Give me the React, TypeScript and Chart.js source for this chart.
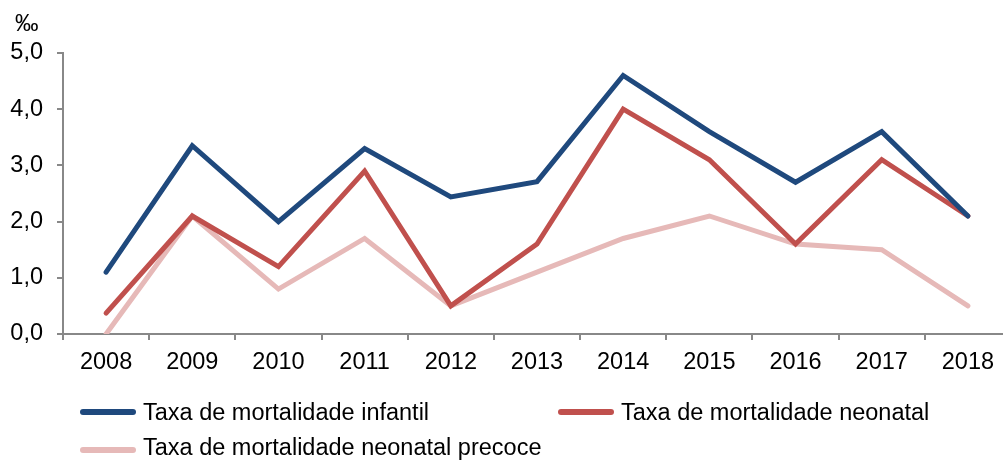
import React, { useEffect, useRef } from "react";
import { Chart, registerables } from "chart.js";

Chart.register(...registerables);

const years = ["2008", "2009", "2010", "2011", "2012", "2013", "2014", "2015", "2016", "2017", "2018"];
const infantil = [1.1, 3.35, 2.0, 3.3, 2.44, 2.71, 4.6, 3.6, 2.7, 3.6, 2.1];
const neonatal = [0.37, 2.1, 1.2, 2.9, 0.5, 1.6, 4.0, 3.1, 1.6, 3.1, 2.1];
const precoce = [0.0, 2.1, 0.8, 1.7, 0.5, 1.1, 1.7, 2.1, 1.6, 1.5, 0.5];
const yTicks = [0, 1, 2, 3, 4, 5];

const seriesNames = [
  "Taxa de mortalidade infantil",
  "Taxa de mortalidade neonatal",
  "Taxa de mortalidade neonatal precoce",
];
const seriesColors = ["#1F497D", "#C0504D", "#E6B9B8"];

const FONT = "'Liberation Sans', Arial, sans-serif";
const FONT_SIZE = 23.5;
const CANVAS_W = 1020;
const CANVAS_H = 462;

export default function App() {
  const ref = useRef<HTMLCanvasElement | null>(null);

  useEffect(() => {
    if (!ref.current) return;
    const chart = new Chart(ref.current, {
      type: "line",
      data: {
        labels: years,
        datasets: [infantil, neonatal, precoce].map((d, i) => ({
          label: seriesNames[i],
          data: d,
          borderColor: seriesColors[i],
          backgroundColor: seriesColors[i],
          borderWidth: 5,
          pointRadius: 0,
          tension: 0,
          borderCapStyle: "round" as const,
          borderJoinStyle: "miter" as const,
        })),
      },
      options: {
        responsive: false,
        animation: false,
        layout: { padding: { left: 0, right: CANVAS_W - 1011, top: 53, bottom: 0 } },
        plugins: { legend: { display: false }, tooltip: { enabled: false } },
        scales: {
          x: {
            offset: true,
            grid: {
              offset: true,
              drawOnChartArea: false,
              drawTicks: true,
              tickLength: 6,
              color: "#888888",
              lineWidth: 2,
            },
            border: { color: "#888888", width: 2 },
            ticks: {
              color: "#000",
              font: { family: FONT, size: FONT_SIZE },
              padding: 8,
              maxRotation: 0,
              autoSkip: false,
            },
            afterFit: (scale: any) => {
              scale.height = CANVAS_H - 334;
            },
          },
          y: {
            min: 0,
            max: 5,
            afterBuildTicks: (scale: any) => {
              scale.ticks = yTicks.map((v) => ({ value: v }));
            },
            grid: {
              drawOnChartArea: false,
              drawTicks: true,
              tickLength: 6,
              color: "#888888",
              lineWidth: 2,
            },
            border: { color: "#888888", width: 2 },
            ticks: {
              color: "#000",
              font: { family: FONT, size: FONT_SIZE },
              padding: 14,
              callback: (v: any) => Number(v).toFixed(1).replace(".", ","),
            },
            afterFit: (scale: any) => {
              scale.width = 63;
            },
          },
        },
      },
    });
    return () => chart.destroy();
  }, []);

  const legendItem = (i: number, lineLeft: number, lineY: number, textTop: number) => (
    <React.Fragment key={i}>
      <div
        style={{
          position: "absolute",
          left: lineLeft,
          top: lineY - 3,
          width: 56,
          height: 6,
          borderRadius: 3,
          background: seriesColors[i],
        }}
      />
      <span
        style={{
          position: "absolute",
          left: lineLeft + 63,
          top: textTop,
          fontFamily: FONT,
          fontSize: FONT_SIZE,
          lineHeight: "28px",
          color: "#000",
          whiteSpace: "nowrap",
        }}
      >
        {seriesNames[i]}
      </span>
    </React.Fragment>
  );

  return (
    <div
      style={{
        position: "fixed",
        left: 0,
        top: 0,
        width: 1003,
        height: 462,
        overflow: "hidden",
        background: "#fff",
      }}
    >
      <canvas
        ref={ref}
        width={CANVAS_W}
        height={CANVAS_H}
        style={{ position: "absolute", left: 0, top: 0, width: CANVAS_W, height: CANVAS_H }}
      />
      <span
        style={{
          position: "absolute",
          left: 15,
          top: 9,
          fontFamily: FONT,
          fontSize: FONT_SIZE,
          lineHeight: "28px",
          color: "#000",
        }}
      >
        ‰
      </span>
      {legendItem(0, 80, 412, 398)}
      {legendItem(1, 558, 412, 398)}
      {legendItem(2, 80, 450, 433)}
    </div>
  );
}
